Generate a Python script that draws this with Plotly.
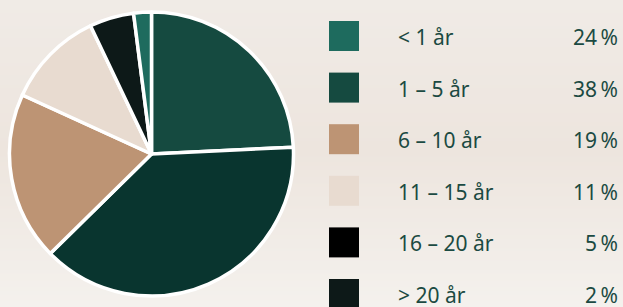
import plotly.graph_objects as go
import zlib, struct, base64

# Data
categories = ["< 1 år", "1 – 5 år", "6 – 10 år", "11 – 15 år", "16 – 20 år", "> 20 år"]
values = [24, 38, 19, 11, 5, 2]
value_labels = ["24\u2009%", "38\u2009%", "19\u2009%", "11\u2009%", "5\u2009%", "2\u2009%"]
slice_colors = ["#154a40", "#09352f", "#bd9474", "#e8dbd0", "#0d1918", "#1e6b5e"]
legend_colors = ["#1e6b5e", "#154a40", "#bd9474", "#e8dbd0", "#000000", "#0d1918"]

W, H = 623, 307

# vertical gradient background as PNG data URI
def grad_png(h):
    stops = [(0, (240, 235, 230)), (150, (237, 229, 222)), (306, (244, 241, 237))]
    rows = b""
    for y in range(h):
        for (y0, c0), (y1, c1) in zip(stops[:-1], stops[1:]):
            if y0 <= y <= y1:
                t = (y - y0) / (y1 - y0)
                c = tuple(int(round(a + (b - a) * t)) for a, b in zip(c0, c1))
                break
        rows += b"\x00" + bytes(c)
    def chunk(tag, data):
        return struct.pack(">I", len(data)) + tag + data + struct.pack(">I", zlib.crc32(tag + data) & 0xffffffff)
    png = b"\x89PNG\r\n\x1a\n" + chunk(b"IHDR", struct.pack(">IIBBBBB", 1, h, 8, 2, 0, 0, 0))
    png += chunk(b"IDAT", zlib.compress(rows)) + chunk(b"IEND", b"")
    return "data:image/png;base64," + base64.b64encode(png).decode()

fig = go.Figure()
fig.add_trace(go.Pie(
    labels=categories, values=values, sort=False, direction="clockwise", rotation=0,
    marker=dict(colors=slice_colors, line=dict(color="white", width=3.5)),
    textinfo="none", hoverinfo="label+percent", showlegend=False,
    domain=dict(x=[9 / W, 294 / W], y=[1 - 296 / H, 1 - 12 / H]),
))

shapes = []
annotations = []
font = dict(family="Noto Sans", size=21, color="#1b4a42")
for i, (cat, lab, col) in enumerate(zip(categories, value_labels, legend_colors)):
    yc = 36 + i * 51.6
    shapes.append(dict(type="rect", xref="paper", yref="paper",
                       x0=329 / W, x1=359 / W, y0=1 - (yc + 15) / H, y1=1 - (yc - 15) / H,
                       fillcolor=col, line=dict(width=0), layer="above"))
    annotations.append(dict(x=396 / W, y=1 - (yc + 1) / H, xref="paper", yref="paper",
                            text=cat, showarrow=False, xanchor="left", yanchor="middle", font=font))
    annotations.append(dict(x=620 / W, y=1 - (yc + 1) / H, xref="paper", yref="paper",
                            text=lab, showarrow=False, xanchor="right", yanchor="middle", font=font))

fig.update_layout(
    width=W, height=H, margin=dict(l=0, r=0, t=0, b=0),
    paper_bgcolor="#eee7e0", plot_bgcolor="rgba(0,0,0,0)",
    shapes=shapes, annotations=annotations,
    images=[dict(source=grad_png(H), xref="paper", yref="paper", x=0, y=1,
                 sizex=1, sizey=1, sizing="stretch", layer="below", xanchor="left", yanchor="top")],
    xaxis=dict(visible=False), yaxis=dict(visible=False),
)
fig.write_html("out.html", config={"displayModeBar": False},
               post_script="document.body.style.margin='0';document.body.style.overflow='hidden';")
